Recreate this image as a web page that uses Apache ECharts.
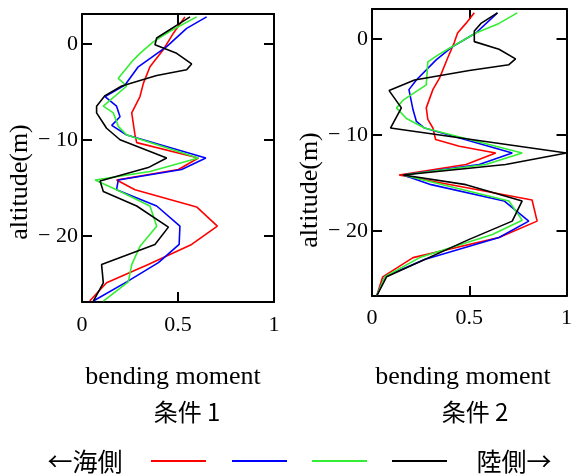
<!DOCTYPE html>
<html>
<head>
<meta charset="utf-8">
<script src="https://cdn.jsdelivr.net/npm/echarts@6/dist/echarts.min.js"></script>
<style>
html,body{margin:0;padding:0;background:#fff;}
#chart{width:575px;height:475px;}
</style>
</head>
<body>
<div id="chart"></div>
<script>
// ---- data: [bending moment, altitude(m)] ----
const c1Red = [[0.536,2.8],[0.476,1.1],[0.424,-0.6],[0.354,-2.4],[0.32,-4.1],[0.302,-5.5],[0.259,-7.2],[0.276,-9.5],[0.285,-10.3],[0.606,-11.9],[0.502,-13.1],[0.18,-14.2],[0.276,-15.2],[0.597,-17.0],[0.705,-19.0],[0.571,-20.9],[0.345,-23.0],[0.128,-24.9],[0.04,-26.8]];
const c1Blue = [[0.649,2.8],[0.545,1.6],[0.441,-0.3],[0.293,-2.4],[0.224,-4.3],[0.12,-5.5],[0.18,-6.5],[0.198,-7.6],[0.155,-8.5],[0.233,-9.5],[0.645,-11.9],[0.519,-13.1],[0.189,-14.2],[0.18,-15.2],[0.389,-16.9],[0.51,-19.0],[0.506,-20.9],[0.398,-22.8],[0.233,-24.8],[0.059,-26.8]];
const c1Green = [[0.597,2.8],[0.458,1.3],[0.371,0.2],[0.302,-1.0],[0.267,-1.7],[0.189,-3.6],[0.233,-4.4],[0.111,-6.5],[0.163,-7.2],[0.189,-8.6],[0.233,-9.5],[0.606,-11.9],[0.354,-13.3],[0.068,-14.2],[0.18,-15.2],[0.354,-16.9],[0.389,-19.0],[0.302,-21.1],[0.259,-23.0],[0.241,-24.8],[0.111,-26.8]];
const c1Black = [[0.5625,2.8],[0.389,0.6],[0.38,-0.1],[0.493,-1.0],[0.571,-2.1],[0.545,-2.7],[0.389,-3.3],[0.207,-4.4],[0.12,-5.4],[0.076,-6.5],[0.076,-7.2],[0.128,-8.8],[0.198,-10.0],[0.441,-11.9],[0.345,-12.9],[0.094,-14.3],[0.111,-15.4],[0.285,-16.9],[0.45,-19.1],[0.38,-20.9],[0.102,-23.0],[0.111,-24.9],[0.059,-26.8]];

const c2Red = [[0.526,2.7],[0.483,1.6],[0.44,0.6],[0.423,-0.4],[0.389,-2.0],[0.347,-4.1],[0.313,-5.3],[0.279,-7.2],[0.287,-8.4],[0.313,-9.3],[0.327,-10.5],[0.449,-11.2],[0.636,-11.9],[0.483,-13.1],[0.139,-14.2],[0.823,-16.8],[0.849,-19.0],[0.653,-20.7],[0.211,-22.8],[0.055,-24.8],[0.024,-26.8]];
const c2Blue = [[0.645,2.7],[0.534,0.6],[0.415,-0.8],[0.33,-2.2],[0.228,-4.3],[0.19,-5.3],[0.211,-7.4],[0.228,-8.6],[0.27,-9.3],[0.721,-11.9],[0.551,-13.1],[0.16,-14.2],[0.304,-15.2],[0.679,-16.9],[0.806,-19.0],[0.653,-20.7],[0.27,-23.0],[0.066,-24.8],[0.024,-26.8]];
const c2Green = [[0.747,2.7],[0.653,1.6],[0.534,0.6],[0.389,-1.1],[0.338,-1.7],[0.287,-2.4],[0.279,-4.8],[0.16,-6.4],[0.126,-7.2],[0.177,-8.3],[0.27,-9.3],[0.772,-11.9],[0.585,-13.1],[0.16,-14.2],[0.704,-16.9],[0.772,-18.9],[0.619,-20.4],[0.245,-22.8],[0.066,-24.8],[0.024,-26.8]];
const c2Black = [[0.645,2.7],[0.56,1.6],[0.526,0.8],[0.526,-0.3],[0.653,-1.1],[0.738,-2.1],[0.704,-2.7],[0.5,-3.3],[0.219,-4.3],[0.088,-5.4],[0.151,-7.2],[0.095,-9.3],[1.0,-11.9],[0.687,-13.1],[0.16,-14.2],[0.483,-15.2],[0.772,-16.9],[0.721,-19.0],[0.5,-20.9],[0.075,-24.8],[0.024,-26.8]];

const altTicks = [0, -10, -20];
const momentTicks = [0, 0.5, 1];
const xName = 'bending moment';
const yName = 'altitude(m)';
const titles = ['条件 1', '条件 2'];
const legendLeft = '←海側';
const legendRight = '陸側→';
const colors = ['#ff0000', '#0000ff', '#33ee33', '#000000'];

const SERIF = '"Liberation Serif","DejaVu Serif",serif';
const CJK = '"Noto Sans CJK JP","Noto Sans CJK SC",sans-serif';

const chart = echarts.init(document.getElementById('chart'));

const grids = [
  {left: 82, top: 14, width: 192, height: 288},
  {left: 372, top: 9, width: 196, height: 287}
];
const yRanges = [[-26.9, 3.1], [-26.8, 3.1]];

const lineStyle = {color: '#000', width: 2};
const tickStyle = {color: '#000', width: 2};

const xAxes = [], yAxes = [];
grids.forEach((g, i) => {
  xAxes.push({
    gridIndex: i, type: 'value', position: 'bottom', min: 0, max: 1,
    axisLine: {show: true, onZero: false, lineStyle},
    axisTick: {show: true, inside: true, length: 10, lineStyle: tickStyle, customValues: momentTicks},
    axisLabel: {show: true, customValues: momentTicks, margin: i === 0 ? 12 : 11, color: '#000', fontFamily: SERIF, fontSize: 22,
      formatter: v => String(v)},
    splitLine: {show: false}
  });
  xAxes.push({
    gridIndex: i, type: 'value', position: 'top', min: 0, max: 1,
    axisLine: {show: true, onZero: false, lineStyle},
    axisTick: {show: true, inside: true, length: 10, lineStyle: tickStyle, customValues: momentTicks},
    axisLabel: {show: false},
    splitLine: {show: false}
  });
  yAxes.push({
    gridIndex: i, type: 'value', position: 'left', min: yRanges[i][0], max: yRanges[i][1],
    axisLine: {show: true, onZero: false, lineStyle},
    axisTick: {show: true, inside: true, length: 10, lineStyle: tickStyle, customValues: altTicks},
    axisLabel: {show: true, customValues: altTicks, margin: 4, color: '#000', fontFamily: SERIF, fontSize: 22,
      formatter: v => v < 0 ? '\u2212 ' + (-v) : String(v)},
    splitLine: {show: false}
  });
  yAxes.push({
    gridIndex: i, type: 'value', position: 'right', min: yRanges[i][0], max: yRanges[i][1],
    axisLine: {show: true, onZero: false, lineStyle},
    axisTick: {show: true, inside: true, length: 10, lineStyle: tickStyle, customValues: altTicks},
    axisLabel: {show: false},
    splitLine: {show: false}
  });
});

const sets = [[c1Red, c1Blue, c1Green, c1Black], [c2Red, c2Blue, c2Green, c2Black]];
const series = [];
sets.forEach((s, gi) => {
  s.forEach((d, k) => {
    series.push({
      type: 'line', xAxisIndex: gi * 2, yAxisIndex: gi * 2, data: d,
      symbol: 'none', silent: true, animation: false,
      lineStyle: {color: colors[k], width: 1.6}, z: 3 + k
    });
  });
});

const txt = (x, y, text, size, font, extra) => Object.assign({
  type: 'text', x: x, y: y,
  style: {text: text, fill: '#000', font: size + 'px ' + font, textAlign: 'center', textVerticalAlign: 'middle'}
}, extra || {});

const graphics = [
  txt(20, 182, yName, 26, SERIF, {rotation: Math.PI / 2}),
  txt(310, 190, yName, 26, SERIF, {rotation: Math.PI / 2}),
  txt(173, 377, xName, 26, SERIF),
  txt(463, 377, xName, 26, SERIF),
  {type: 'text', x: 187, y: 412, style: {text: titles[0], fill: '#000', font: '24px ' + CJK + ',' + SERIF, textAlign: 'center', textVerticalAlign: 'middle'}},
  {type: 'text', x: 475, y: 412, style: {text: titles[1], fill: '#000', font: '24px ' + CJK + ',' + SERIF, textAlign: 'center', textVerticalAlign: 'middle'}},
  txt(85, 461, legendLeft, 25, CJK),
  txt(514, 461, legendRight, 25, CJK)
];
const keyX = [151, 232, 312, 392];
keyX.forEach((x, k) => {
  graphics.push({type: 'line', shape: {x1: x, y1: 461, x2: x + 55, y2: 461}, style: {stroke: colors[k], lineWidth: 2}});
});

chart.setOption({
  backgroundColor: '#fff',
  animation: false,
  grid: grids.map(g => Object.assign({containLabel: false}, g)),
  xAxis: xAxes,
  yAxis: yAxes,
  series: series,
  graphic: graphics
});
</script>
</body>
</html>
